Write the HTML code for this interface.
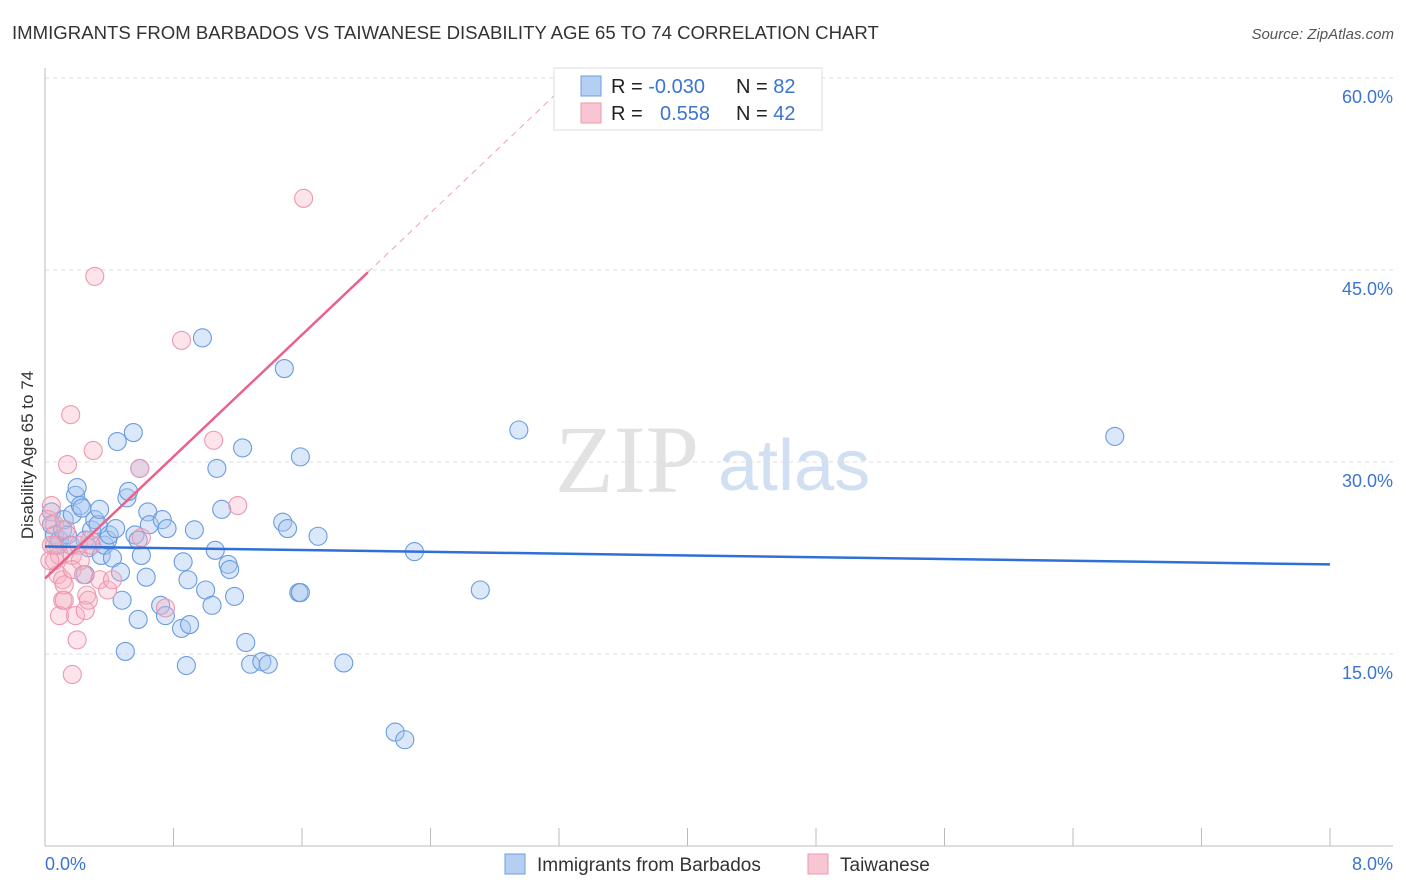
<!DOCTYPE html>
<html><head><meta charset="utf-8"><style>
body{margin:0;background:#fff;font-family:"Liberation Sans",sans-serif}
svg{display:block}
</style></head><body>
<svg id="c" width="1406" height="892">
<text x="12" y="39" font-size="18.6" fill="#333">IMMIGRANTS FROM BARBADOS VS TAIWANESE DISABILITY AGE 65 TO 74 CORRELATION CHART</text>
<text x="1394" y="39" font-size="15" fill="#555" font-style="italic" text-anchor="end">Source: ZipAtlas.com</text>
<text x="0" y="0" transform="translate(33,455) rotate(-90)" font-size="17" fill="#333" text-anchor="middle">Disability Age 65 to 74</text>
<text x="555" y="492" font-size="96" fill="#e2e2e2" font-family="Liberation Serif,serif">ZIP</text>
<text x="718" y="490" font-size="72" fill="#d0e0f2">atlas</text>
<g id="grid"></g><g id="axes"></g><g id="pts"></g><g id="trend"></g>
<g>
<rect x="554" y="68" width="268" height="62" fill="#fff" stroke="#ddd"/>
<rect x="581" y="76" width="20" height="20" fill="#b4cff2" stroke="#6f9ee0"/>
<rect x="581" y="103" width="20" height="20" fill="#f8c5d3" stroke="#ec98b0"/>
<text x="611" y="93" font-size="20" fill="#222">R = <tspan fill="#3b74d1">-0.030</tspan></text>
<text x="736" y="93" font-size="20" fill="#222">N = <tspan fill="#3b74d1">82</tspan></text>
<text x="611" y="120" font-size="20" fill="#222">R = <tspan fill="#3b74d1" x="660">0.558</tspan></text>
<text x="736" y="120" font-size="20" fill="#222">N = <tspan fill="#3b74d1">42</tspan></text>
</g>
<g>
<rect x="505" y="854" width="20" height="20" fill="#b4cff2" stroke="#6f9ee0"/>
<text x="537" y="871" font-size="19" fill="#333">Immigrants from Barbados</text>
<rect x="808" y="854" width="20" height="20" fill="#f8c5d3" stroke="#ec98b0"/>
<text x="840" y="871" font-size="19" fill="#333">Taiwanese</text>
</g>
<text x="45" y="870" font-size="18" fill="#3b74d1">0.0%</text>
<text x="1393" y="870" font-size="18" fill="#3b74d1" text-anchor="end">8.0%</text>
</svg>
<script>
const yTicks=[60,45,30,15];
const yTickLabels=["60.0%","45.0%","30.0%","15.0%"];
const blueX=[.04,.04,.06,.08,.09,.11,.12,.14,.16,.17,.19,.20,.22,.23,.25,.25,.27,.29,.31,.33,.34,.35,.37,.39,.40,.44,.42,.45,.47,.48,.50,.51,.52,.55,.56,.58,.58,.59,.60,.63,.64,.65,.72,.73,.75,.76,.85,.86,.88,.89,.90,.93,.98,1.00,1.04,1.06,1.07,1.10,1.14,1.15,1.18,1.23,1.25,1.28,1.35,1.39,1.48,1.49,1.51,1.58,1.59,1.59,1.70,1.86,2.18,2.24,2.30,2.71,2.95,6.66];
const blueY=[26.1,25.1,24.3,23.5,23.9,24.7,25.5,24.3,23.5,25.9,27.4,28.0,26.6,26.4,23.9,21.2,23.3,24.7,25.5,25.1,26.3,22.7,23.5,23.9,24.3,24.8,22.5,31.6,21.4,19.2,15.2,27.2,27.7,32.3,24.3,23.9,17.7,29.5,22.7,21.0,26.1,25.1,18.8,25.5,18.0,24.8,17.0,22.2,14.1,20.8,17.3,24.7,39.7,20.0,18.8,23.1,29.5,26.3,22.0,21.6,19.5,31.1,15.9,14.2,14.4,14.2,25.3,37.3,24.8,19.8,30.4,19.8,24.2,14.3,8.9,8.3,23.0,20.0,32.5,32.0];
const pinkX=[.04,.06,.04,.06,.08,.09,.11,.09,.11,.12,.14,.16,.17,.17,.19,.20,.21,.22,.25,.26,.27,.28,.30,.31,.34,.39,.42,.59,.60,.75,.85,1.05,1.20,1.61,.02,.03,.06,.13,.17,.24,.12,.29];
const pinkY=[26.6,25.1,23.5,22.3,21.2,22.7,19.2,18.0,20.8,19.2,29.8,33.7,22.7,13.4,18.0,16.1,23.5,22.3,18.4,19.6,19.2,23.9,30.9,44.5,20.8,20.0,20.8,29.5,24.1,18.6,39.5,31.7,26.6,50.6,25.5,22.3,23.5,24.7,21.6,21.2,20.4,23.5];
const blueTrend=[23.4,22.0];
const pinkTrend=[20.9,11.9];
const NS="http://www.w3.org/2000/svg";
const sx=v=>45+v/8*1285, sy=v=>846-v*12.8;
function mk(t,a,p){const e=document.createElementNS(NS,t);for(const k in a)e.setAttribute(k,a[k]);p.appendChild(e);return e;}
const grid=document.getElementById('grid'),axes=document.getElementById('axes'),pts=document.getElementById('pts'),tr=document.getElementById('trend');
yTicks.forEach((v,i)=>{
 const l=mk('line',{x1:45,x2:1393,y1:sy(v),y2:sy(v),stroke:'#ddd','stroke-dasharray':'4,4'},grid);
 
 
 const t=mk('text',{x:1393,y:sy(v)+25,'font-size':18,fill:'#3b74d1','text-anchor':'end'},grid);
 t.textContent=yTickLabels[i];
 
 
});
const ax=mk('line',{x1:45,x2:45,y1:68,y2:846,stroke:'#bbb'},axes);


const bx=mk('line',{x1:45,x2:1393,y1:846,y2:846,stroke:'#bbb'},axes);


for(let i=0;i<=10;i++){const t=mk('line',{x1:sx(i*0.8),x2:sx(i*0.8),y1:828,y2:846,stroke:'#bbb'},axes);
 
 }
blueX.forEach((x,i)=>{const c=mk('circle',{cx:sx(x),cy:sy(blueY[i]),r:9,fill:'rgba(165,198,240,0.4)',stroke:'#6b9be0','stroke-width':1.1},pts);
 
 });
pinkX.forEach((x,i)=>{const c=mk('circle',{cx:sx(x),cy:sy(pinkY[i]),r:9,fill:'rgba(246,178,196,0.35)',stroke:'#ec98b0','stroke-width':1.1},pts);
 
 });
const bl=mk('line',{x1:sx(0),y1:sy(blueTrend[0]),x2:sx(8),y2:sy(blueTrend[1]),stroke:'#2f6fd6','stroke-width':2.5},tr);


const pe=(60-pinkTrend[0])/pinkTrend[1];
const pd=mk('line',{x1:sx(2.01),y1:sy(pinkTrend[0]+pinkTrend[1]*2.01),x2:sx(pe),y2:sy(60),stroke:'#f0a0b8','stroke-width':1,'stroke-dasharray':'6,5'},tr);


const pl=mk('line',{x1:sx(0),y1:sy(pinkTrend[0]),x2:sx(2.01),y2:sy(pinkTrend[0]+pinkTrend[1]*2.01),stroke:'#e8628c','stroke-width':2.5},tr);


</script>
</body></html>
